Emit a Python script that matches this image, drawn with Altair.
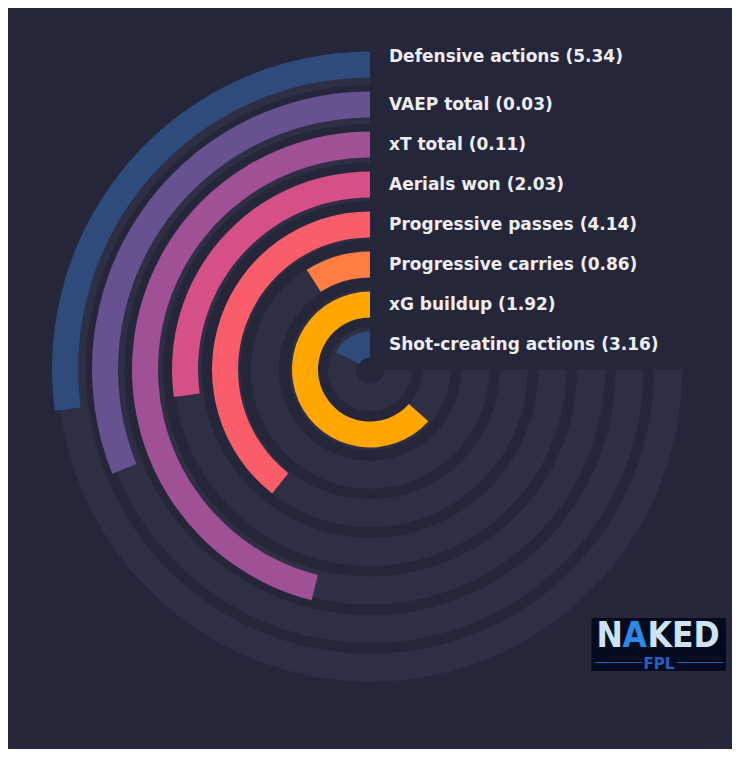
import math
import altair as alt
import pandas as pd

# ---- data (outermost ring first) ----
labels = ["Defensive actions", "VAEP total", "xT total", "Aerials won",
          "Progressive passes", "Progressive carries", "xG buildup",
          "Shot-creating actions"]
values = [5.34, 0.03, 0.11, 2.03, 4.14, 0.86, 1.92, 3.16]
percentiles = [36.1, 41.5, 61.4, 36.3, 52.5, 12.0, 84.6, 23.3]
colors = ["#2f4b7c", "#665191", "#a05195", "#d45087",
          "#f95d6a", "#ff7c43", "#ffa600", "#2f4b7c"]

BG = "#25263a"
TRACK = "#2e2f44"
CX, CY = 362, 361.5

n = len(labels)
rows = []
for k in range(n):
    ring = n - 1 - k  # 0 = innermost
    rows.append(dict(
        label=f"{labels[k]} ({values[k]:.2f})",
        pct=percentiles[k], color=colors[k], ring=ring,
        r_in=12 + 40 * ring, r_out=38 + 40 * ring,
        t_in=14 + 38.6 * ring, t_out=42 + 38.6 * ring,
        zero=0, full=100,
        ly=CY - (24.5 + 40 * ring) - (8 if ring == n - 1 else 0),
    ))
df = pd.DataFrame(rows)

theta_scale = alt.Scale(domain=[0, 100], range=[2 * math.pi, math.pi / 2])

base = alt.Chart(df)

tracks = base.mark_arc(color=TRACK, stroke=None).encode(
    theta=alt.Theta("full:Q", scale=theta_scale),
    theta2=alt.Theta2("zero:Q"),
    radius=alt.Radius("t_out:Q", scale=None),
    radius2=alt.Radius2("t_in:Q"),
    x=alt.value(CX), y=alt.value(CY),
)

bars = base.mark_arc(stroke=None).encode(
    theta=alt.Theta("pct:Q", scale=theta_scale),
    theta2=alt.Theta2("zero:Q"),
    radius=alt.Radius("r_out:Q", scale=None),
    radius2=alt.Radius2("r_in:Q"),
    color=alt.Color("color:N", scale=None),
    x=alt.value(CX), y=alt.value(CY),
)

text = base.mark_text(align="left", baseline="middle", font="DejaVu Sans",
                      fontWeight="bold", fontSize=17, color="#eeeef2").encode(
    x=alt.value(381),
    y=alt.Y("ly:Q", scale=None, axis=None),
    text="label:N",
)

# ---- logo ----
logo_df = pd.DataFrame({"a": [1]})
lb = alt.Chart(logo_df)
LIGHT = "#cde4f5"
BLUE = "#1f63c9"
logo_box = lb.mark_rect(color="#040b1e").encode(
    x=alt.value(583.5), x2=alt.value(718), y=alt.value(610), y2=alt.value(663))


def letter(t, xpos, col):
    return lb.mark_text(text=t, font="DejaVu Sans Condensed", fontWeight="bold",
                        fontSize=35, color=col, align="left",
                        baseline="alphabetic").encode(x=alt.value(xpos), y=alt.value(638.5))


logo_n = letter("N", 588.5, LIGHT)
logo_a = letter("A", 614.5, "#2a8ae6")
logo_ked = letter("KED", 639.5, LIGHT)
logo_fpl = lb.mark_text(text="FPL", font="DejaVu Sans", fontWeight="bold",
                        fontSize=15, color=BLUE, align="center",
                        baseline="alphabetic").encode(x=alt.value(651), y=alt.value(661))
logo_l1 = lb.mark_rule(color=BLUE, strokeWidth=1).encode(
    x=alt.value(587), x2=alt.value(634), y=alt.value(654.5))
logo_l2 = lb.mark_rule(color=BLUE, strokeWidth=1).encode(
    x=alt.value(669), x2=alt.value(715), y=alt.value(654.5))

chart = alt.layer(tracks, bars, text, logo_box, logo_n, logo_a, logo_ked,
                  logo_fpl, logo_l1, logo_l2).properties(
    width=724, height=741,
    autosize=alt.AutoSizeParams(type="none"),
    padding=0,
    background=BG,
).configure_view(stroke=None)

chart.save("out.html", embed_options={"renderer": "svg", "actions": False})
